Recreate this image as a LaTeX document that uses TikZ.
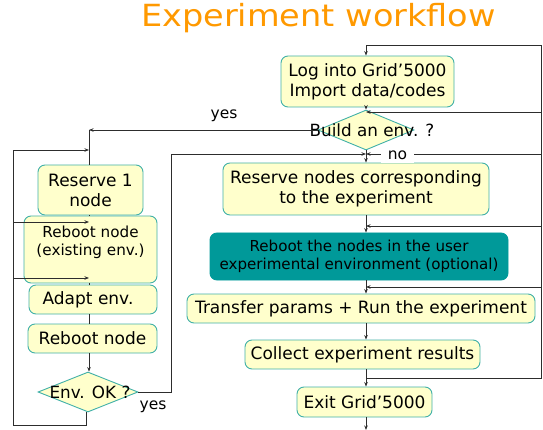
\documentclass[tikz,border=0pt]{standalone}
\usepackage{fontspec}
\setmainfont{DejaVu Sans}
\newfontfamily\titlefont[FakeStretch=1.1]{DejaVu Sans}
\usetikzlibrary{arrows.meta,shapes.geometric}
\definecolor{boxfill}{RGB}{255,255,204}
\definecolor{boxline}{RGB}{64,176,168}
\definecolor{tealfill}{RGB}{0,153,153}
\definecolor{titleorange}{RGB}{255,153,0}
\definecolor{wirecol}{RGB}{45,45,45}
\begin{document}
\begin{tikzpicture}[x=1pt,y=-1pt,
  box/.style={draw=boxline, fill=boxfill, rounded corners=7pt, line width=0.9pt,
    align=center, inner sep=0pt, font=\fontsize{17}{20}\selectfont},
  tealbox/.style={box, fill=tealfill, draw=tealfill},
  dia/.style={diamond, draw=boxline, fill=boxfill, line width=0.9pt, inner sep=0pt},
  diatext/.style={font=\fontsize{16.8}{20}\selectfont},
  wire/.style={draw=wirecol, line width=0.8pt},
  arr/.style={wire, -{Stealth[length=4.5pt,width=3.5pt]}},
  lbl/.style={font=\fontsize{15.5}{19}\selectfont, inner sep=1pt}]
\useasboundingbox (0,0) rectangle (543,430);

% title
\node[font=\titlefont\fontsize{30.5}{34}\selectfont, text=titleorange] (title) at (318.5,18) {Experiment workflow};

% right column
\coordinate (rc) at (366,0);
\coordinate (rr) at (541,0);
\node[box, minimum width=173, minimum height=51] (login) at (367.5,81.5) {Log into Grid’5000\\Import data/codes};
\node[dia, minimum width=96, minimum height=40,
  label={[diatext, xshift=6pt]center:Build an env. ?}] (build) at (366,130) {};
\node[box, minimum width=266, minimum height=52] (resv) at (356,189) {Reserve nodes corresponding\\to the experiment};
\node[tealbox, minimum width=298, minimum height=47, font=\fontsize{15.1}{18.5}\selectfont] (rebootu) at (359,256.5) {Reboot the nodes in the user\\experimental environment (optional)};
\node[box, minimum width=348, minimum height=29] (transfer) at (361,308.5) {Transfer params + Run the experiment};
\node[box, minimum width=235, minimum height=29] (collect) at (362.5,354.5) {Collect experiment results};
\node[box, minimum width=135, minimum height=30] (exit) at (364.5,402) {Exit Grid’5000};
\coordinate (endpt) at (366,430);

% left column
\node[box, minimum width=105, minimum height=50] (res1) at (90.5,190) {Reserve 1\\node};
\node[box, minimum width=133, minimum height=67,
  label={[align=center, font=\fontsize{15.2}{18}\selectfont, yshift=7.5pt]center:Reboot node\\(existing env.)}] (rebex) at (90.5,249.5) {};
\node[box, minimum width=128, minimum height=29] (adapt) at (93,299.5) {Adapt env.\hspace{10pt}};
\node[box, minimum width=129, minimum height=29] (reboot) at (92.5,338.5) {Reboot node};
\node[dia, minimum width=100, minimum height=40,
  label={[diatext, xshift=2pt]center:Env. OK ?}] (envok) at (88,392) {};

\coordinate (lc) at (89,0);
\coordinate (ll) at (13,0);
\coordinate (yx) at (171,0);

% right column connectors
\draw[arr] (login.south -| rc) -- (build.north -| rc);
\draw[arr] (build.south -| rc) -- (resv.north -| rc);
\draw[arr] (resv.south -| rc) -- (rebootu.north -| rc);
\draw[arr] (rebootu.south -| rc) -- (transfer.north -| rc);
\draw[arr] (transfer.south -| rc) -- (collect.north -| rc);
\draw[arr] (collect.south -| rc) -- (exit.north -| rc);
\draw[arr] (exit.south -| rc) -- (endpt);

% right loop back
\coordinate (j0) at (366,378);
\draw[wire] (j0) -- (j0 -| rr) -- (rr |- 0,45) coordinate (rtop);
\draw[arr] (rtop) -- (rc |- 0,45) -- (login.north -| rc);
\draw[arr] (rr |- 0,112) -- (rc |- 0,112);
\draw[arr] (rr |- 0,154) -- (rc |- 0,154);
\draw[arr] (rr |- 0,226) -- (rc |- 0,226);
\draw[arr] (rr |- 0,287) -- (rc |- 0,287);

% no label
\node[lbl, fill=white, minimum width=33, minimum height=17] (nolbl) at (397.5,155) {no};

% yes branch from build
\draw[arr] (build.west) -- (lc |- build.west);
\draw[wire] (lc |- build.west) -- (res1.north -| lc);
\node[lbl] (yes1) at (224,116) {yes};

% left column connectors
\draw[wire] (res1.south -| lc) -- (rebex.north -| lc);
\draw[wire] (rebex.south -| lc) -- (adapt.north -| lc);
\draw[wire] (adapt.south -| lc) -- (reboot.north -| lc);
\draw[arr] (reboot.south -| lc) -- (envok.north -| lc);

% left loop (env not OK)
\draw[wire] (envok.south -| 86,0) -- (86,425) -- (ll |- 0,425) -- (ll |- 0,150);
\draw[arr] (ll |- 0,150) -- (lc |- 0,150);
\draw[arr] (ll |- 0,222) -- (lc |- 0,222);
\draw[arr] (ll |- 0,278) -- (lc |- 0,278);

% env OK yes
\draw[arr] (envok.east) -- (yx |- envok.east) -- (yx |- 0,154) -- (rc |- 0,154);
\node[lbl] (yes2) at (153,407) {yes};
\end{tikzpicture}
\end{document}
